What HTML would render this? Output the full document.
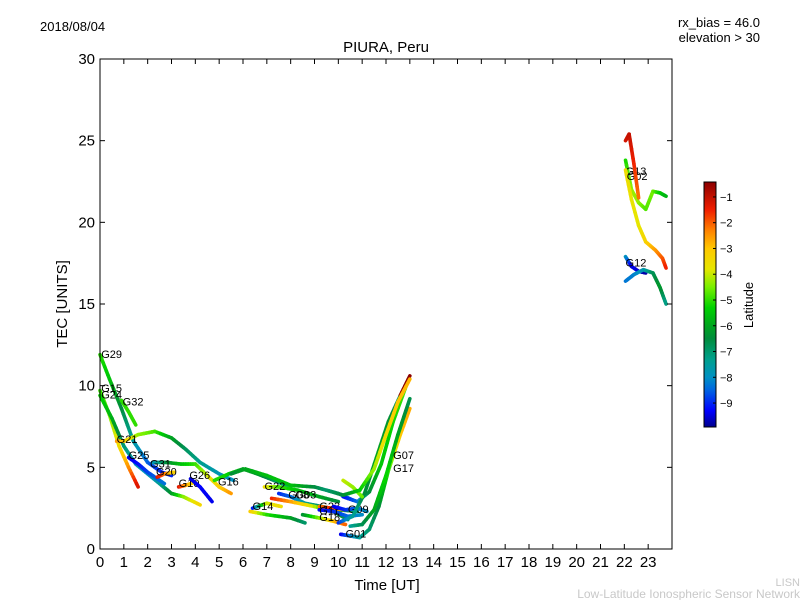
<!DOCTYPE html>
<html><head><meta charset="utf-8"><style>
body{margin:0;background:#fff;}
svg{display:block;font-family:"Liberation Sans","DejaVu Sans",sans-serif;}
</style></head><body>
<svg id="chart" width="800" height="600" viewBox="0 0 800 600">
<text x="40" y="31" font-size="13">2018/08/04</text>
<text x="760" y="27" font-size="13" text-anchor="end">rx_bias = 46.0</text>
<text x="760" y="42" font-size="13" text-anchor="end">elevation &gt; 30</text>
<text x="386" y="52" font-size="15" text-anchor="middle">PIURA, Peru</text>
<text x="387" y="590" font-size="15" text-anchor="middle">Time [UT]</text>
<text x="67" y="304" font-size="15" text-anchor="middle" transform="rotate(-90 67 304)">TEC [UNITS]</text>
<text x="800" y="586" font-size="11" fill="#c8c8c8" text-anchor="end">LISN</text>
<text x="800" y="598" font-size="12" fill="#c8c8c8" text-anchor="end">Low-Latitude Ionospheric Sensor Network</text>
<defs><linearGradient id="jet" x1="0" y1="1" x2="0" y2="0"></linearGradient></defs>
<g id="plot"></g>
<g id="axes"></g>
<g id="cbar"></g>
</svg>
<script>
const xTicks=[0,1,2,3,4,5,6,7,8,9,10,11,12,13,14,15,16,17,18,19,20,21,22,23];
const yTicks=[0,5,10,15,20,25,30];
const cbTicks=[-1,-2,-3,-4,-5,-6,-7,-8,-9];
// each track: times, tec values, latitude values
const trackNames=["G29","G15","G24","G32","G21","G25","G31","G20","G10","G26","G16","GB","GH","G22","G14","G08","G03","G23","G11","G18","G09","G01","G07","G17","GR1","GR2","GR3","G13","G02","GX","G12","GY"];
const trackT=[
[0,0.4,0.9,1.4,2.0,2.6,3.0],
[0,0.4,0.8,1.2,1.6],
[0,0.5,1.0,1.5,2.0,2.5,3.0,3.5,4.2],
[0.9,1.2,1.5],
[0.7,1.0,1.6,2.3,3.0,3.6,4.2,5.0,5.6],
[1.2,1.6,2.0,2.7],
[2.2,2.8,3.4,4.0,4.5,5.0,5.5],
[2.4,2.7,3.1],
[3.3,3.6,4.0],
[3.8,4.2,4.7],
[4.8,5.4,6.0,6.6,7.3,8.0],
[5.5,6.1,7.0,8.0,9.0,10.0,10.6],
[6.3,7.0,8.0,8.6],
[6.9,7.5,8.3,9.2,10.0],
[6.4,7.0,7.6],
[7.5,8.0,8.6,9.3,10.0,10.8],
[7.2,8.0,9.0,9.8,10.4],
[9.2,9.7,10.3],
[9.2,9.8,10.4,11.0],
[8.5,9.2,9.8,10.3],
[9.8,10.3,10.8,11.2],
[10.1,10.5,10.9,11.3,11.7,12.1,12.6,13.0],
[10.5,11.0,11.5,12.0,12.5,13.0],
[10.2,10.8,11.3,11.8,12.3,12.9],
[10.0,10.6,11.1,11.6,12.1,12.6,13.0],
[10.2,10.6,11.0],
[9.5,10.2,10.9,11.5,12.0,12.5,13.0],
[22.05,22.3,22.6,22.9,23.2,23.5,23.75],
[22.05,22.3,22.6,22.9,23.3,23.6,23.75],
[22.05,22.2,22.4,22.6],
[22.05,22.3,22.6,22.9],
[22.05,22.4,22.8,23.2,23.5,23.75]];
const trackV=[
[11.9,10.4,8.6,6.6,5.3,4.7,4.5],
[9.7,8.2,6.3,5.0,3.8],
[9.4,8.0,6.3,5.2,4.6,4.0,3.4,3.2,2.7],
[9.1,8.4,7.6],
[6.6,6.6,7.0,7.2,6.8,6.1,5.3,4.6,4.2],
[5.6,5.2,4.7,4.0],
[5.3,5.3,5.2,5.2,4.5,3.8,3.4],
[4.4,4.6,4.7],
[3.8,3.9,4.1],
[4.3,3.8,2.9],
[4.2,4.6,4.9,4.6,4.2,3.8],
[4.6,4.9,4.5,3.9,3.8,3.4,3.0],
[2.3,2.1,1.9,1.6],
[3.8,3.8,3.6,3.2,2.9],
[2.5,2.8,2.6],
[3.4,3.2,2.8,2.6,2.4,2.3],
[3.1,2.9,2.6,2.3,1.8],
[2.6,2.5,2.4],
[2.4,2.3,2.0,2.1],
[2.1,1.9,1.7,1.5],
[2.6,2.4,2.5,2.3],
[0.9,0.8,0.7,1.2,2.6,4.8,7.0,8.6],
[1.4,1.5,2.4,4.5,7.0,9.2],
[3.2,2.9,3.5,5.2,7.8,10.2],
[1.6,2.0,3.4,5.6,7.8,9.4,10.6],
[4.2,3.8,3.2],
[3.6,3.3,3.6,4.9,7.0,9.0,10.4],
[23.8,22.0,21.2,20.8,21.9,21.8,21.6],
[23.2,21.4,19.8,18.8,18.3,17.8,17.2],
[25.0,25.4,23.6,21.5],
[17.9,17.3,17.0,16.9],
[16.4,16.8,17.1,16.9,16.0,15.0]];
const trackL=[
[-5,-5.5,-6.5,-7.5,-8.5,-9,-9],
[-5,-4.5,-3.6,-2.5,-1.2],
[-5.2,-5.8,-7,-7.8,-8,-7.5,-6.3,-4.5,-3.3],
[-5,-5,-5],
[-2.5,-3,-4.3,-4.8,-6,-6.8,-7.3,-7.8,-8],
[-9.5,-9.2,-8.8,-8.3],
[-8,-6.5,-5.6,-5,-4,-3.2,-2.5],
[-1.2,-2,-3.3],
[-1.2,-2.5,-3.5],
[-9.5,-9.3,-9.4],
[-5,-5.3,-6,-6.2,-6.8,-7.3],
[-6.5,-6,-5.6,-5.5,-6.5,-7.5,-8.5],
[-3,-5,-6,-7],
[-3.5,-4.8,-5.5,-6,-6.5],
[-9.5,-4,-3.5],
[-9,-8.5,-7.5,-6.8,-6.2,-7],
[-1.5,-2.5,-4,-6,-7],
[-2.3,-1.5,-3],
[-9.3,-9,-8.5,-8],
[-6.5,-4.5,-3,-2],
[-9.5,-9,-8.5,-8],
[-9.5,-8.3,-7.5,-7,-6.5,-5,-3,-2.7],
[-7.5,-6.8,-6,-5.2,-6,-6.7],
[-9.3,-8.5,-6.5,-5.5,-5.2,-4.8],
[-9,-7.5,-6.5,-6,-6.3,-7],
[-4,-4.3,-4.6],
[-7,-6.5,-5.5,-4.3,-3.5,-3,-2.8],
[-5.2,-4.3,-4.3,-4.8,-4.5,-5.3,-5.8],
[-3.5,-3.7,-3.8,-3.3,-2.6,-2,-1.5],
[-1.2,-1,-1.5,-2.2],
[-7.8,-9.4,-9.5,-9.8],
[-8.3,-8.2,-7.8,-6.8,-6.2,-7.3]];
const labelX=[0.05,0.05,0.05,0.95,0.7,1.2,2.1,2.35,3.3,3.75,4.95,0,0,6.9,6.4,7.9,8.2,9.2,9.2,9.2,10.4,10.3,12.3,12.3,0,0,0,22.05,22.1,0,22.05,0];
const labelV=[11.7,9.6,9.2,8.8,6.5,5.5,5.0,4.5,3.8,4.3,3.9,null,null,3.6,2.4,3.1,3.1,2.4,2.1,1.7,2.2,0.7,5.5,4.7,null,null,null,22.9,22.6,null,17.3,null];

const X0=100,X1=672,Y0=549,Y1=59;
const xs=t=>X0+t/24*(X1-X0);
const ys=v=>Y0-v/30*(Y0-Y1);
const LMIN=-9.93,LMAX=-0.42;
const CM=[[-9.93,0,0,140],[-9.3,0,0,255],[-8.5,0,100,225],[-8,0,145,195],[-7.3,0,160,140],[-6.5,0,140,60],[-6,0,165,30],[-5.3,0,210,0],[-4.5,120,240,0],[-3.8,230,230,0],[-3,255,200,0],[-2.3,255,130,0],[-1.5,240,30,0],[-0.42,140,0,0]];
function jet(l){l=Math.max(LMIN,Math.min(LMAX,l));
 for(let i=0;i<CM.length-1;i++){const a=CM[i],b=CM[i+1];
  if(l<=b[0]){const f=(l-a[0])/(b[0]-a[0]);
   return `rgb(${Math.round(a[1]+(b[1]-a[1])*f)},${Math.round(a[2]+(b[2]-a[2])*f)},${Math.round(a[3]+(b[3]-a[3])*f)})`;}}
 return 'rgb(140,0,0)';}
const NS="http://www.w3.org/2000/svg";
const plot=document.getElementById('plot');
const axes=document.getElementById('axes');
const cbar=document.getElementById('cbar');
function mk(tag,attrs,parent){const e=document.createElementNS(NS,tag);for(const k in attrs)e.setAttribute(k,attrs[k]);parent.appendChild(e);return e;}
const grad=document.getElementById('jet');
CM.forEach(s=>{mk('stop',{offset:(s[0]-LMIN)/(LMAX-LMIN),'stop-color':`rgb(${s[1]},${s[2]},${s[3]})`},grad);});

trackT.forEach((ts,i)=>{
 const vs=trackV[i],ls=trackL[i];
 const g=mk('g',{},plot);
 
 
 for(let k=0;k<ts.length-1;k++){
  const n=6;
  for(let j=0;j<n;j++){
   const a=j/n,b=(j+1)/n;
   const t1=ts[k]+(ts[k+1]-ts[k])*a,t2=ts[k]+(ts[k+1]-ts[k])*b;
   const v1=vs[k]+(vs[k+1]-vs[k])*a,v2=vs[k]+(vs[k+1]-vs[k])*b;
   const l=ls[k]+(ls[k+1]-ls[k])*(a+b)/2;
   const s=mk('line',{x1:xs(t1),y1:ys(v1),x2:xs(t2),y2:ys(v2),stroke:jet(l),'stroke-width':3.6,'stroke-linecap':'round'},g);
   
   
  }
 }
 if(labelV[i]!==null){
  const tx=mk('text',{x:xs(labelX[i]),y:ys(labelV[i]),'font-size':11},plot);
  tx.textContent=trackNames[i];
  
  
 }
});

const frame=mk('rect',{x:X0,y:Y1,width:X1-X0,height:Y0-Y1,fill:'none',stroke:'#000','stroke-width':1},axes);


xTicks.forEach(t=>{
 const x=xs(t);
 mk('line',{x1:x,y1:Y0,x2:x,y2:Y0-5,stroke:'#000'},axes);
 mk('line',{x1:x,y1:Y1,x2:x,y2:Y1+5,stroke:'#000'},axes);
 const tx=mk('text',{x:x,y:Y0+18,'font-size':15,'text-anchor':'middle'},axes);
 tx.textContent=t;
 
 
});
yTicks.forEach(v=>{
 const y=ys(v);
 mk('line',{x1:X0,y1:y,x2:X0+5,y2:y,stroke:'#000'},axes);
 mk('line',{x1:X1,y1:y,x2:X1-5,y2:y,stroke:'#000'},axes);
 const tx=mk('text',{x:X0-5,y:y+5,'font-size':15,'text-anchor':'end'},axes);
 tx.textContent=v;
 
 
});
const CB0=427,CB1=182,CBX=704,CBW=12;
const cy=l=>CB0-(l-LMIN)/(LMAX-LMIN)*(CB0-CB1);
mk('rect',{x:CBX,y:CB1,width:CBW,height:CB0-CB1,fill:'url(#jet)',stroke:'#000'},cbar);
cbTicks.forEach(l=>{
 const y=cy(l);
 mk('line',{x1:CBX+CBW-3,y1:y,x2:CBX+CBW,y2:y,stroke:'#000'},cbar);
 const tx=mk('text',{x:CBX+CBW+4,y:y+4,'font-size':11},cbar);
 tx.textContent='\u2212'+(-l);
 
 
});
const ct=mk('text',{x:753,y:305,'font-size':13,'text-anchor':'middle',transform:'rotate(-90 753 305)'},cbar);
ct.textContent='Latitude';


</script>
</body></html>
